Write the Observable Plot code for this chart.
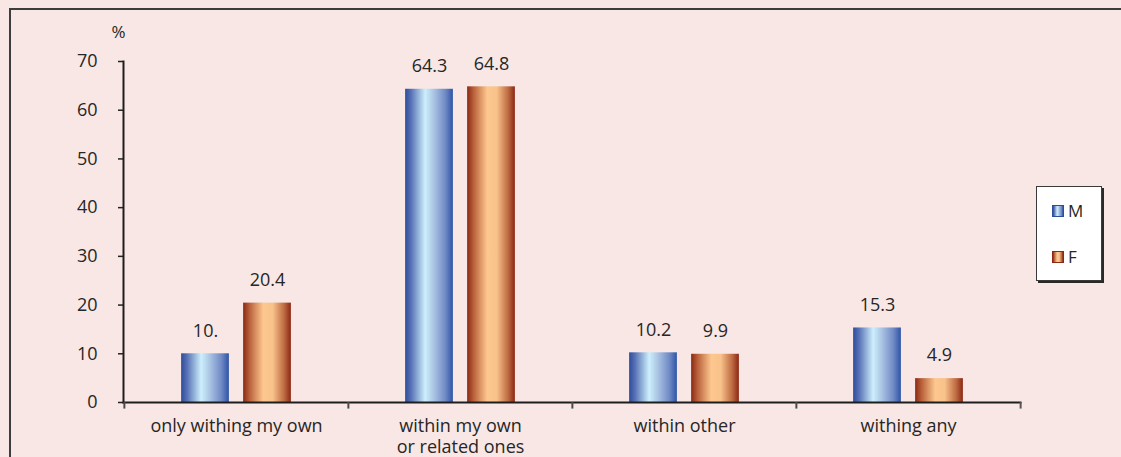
<!DOCTYPE html>
<html>
<head>
<meta charset="utf-8">
<script src="https://cdn.jsdelivr.net/npm/d3@7"></script>
<script src="https://cdn.jsdelivr.net/npm/@observablehq/plot@0.6"></script>
<style>
  html, body { margin: 0; padding: 0; width: 1121px; height: 457px; overflow: hidden; background: #f8e7e5; }
  body { position: relative; font-family: "Open Sans", Lato, sans-serif; color: #262626; }
  #panel { position: absolute; left: 9px; top: 8px; width: 1200px; height: 520px; border-left: 2px solid #3d3d3d; border-top: 2px solid #3d3d3d; box-sizing: border-box; }
  #chart { position: absolute; left: 0; top: 0; }
  #legend { position: absolute; left: 1036px; top: 186px; width: 66px; height: 95px; background: #fff; border: 1px solid #3a3a3a; box-shadow: 2px 2px 0 #2a2a2a; box-sizing: border-box; }
  .item { position: absolute; left: 15px; display: flex; align-items: center; font-size: 17px; line-height: 18px; }
  .sw { width: 12px; height: 12px; margin-right: 4px; box-sizing: border-box; }
</style>
</head>
<body>
<div id="panel"></div>
<div id="chart"></div>
<div id="legend">
  <div class="item" style="top: 15px"><div class="sw" id="swM"></div><span>M</span></div>
  <div class="item" style="top: 61px"><div class="sw" id="swF"></div><span>F</span></div>
</div>
<script>
// Share of respondents (%) by group, for men (M) and women (F)
const categories = ["only withing my own", "within my own\nor related ones", "within other", "withing any"];
const series = ["M", "F"];
const maleValues = [10.0, 64.3, 10.2, 15.3];
const femaleValues = [20.4, 64.8, 9.9, 4.9];
const yTicks = [0, 10, 20, 30, 40, 50, 60, 70];

// Cylinder-like horizontal shading for each series
const gradients = {
  M: [[0, "#2c4c9c"], [0.12, "#5670b4"], [0.42, "#cdeffc"], [0.6, "#aac4e4"], [0.85, "#6f88c4"], [1, "#2d53a6"]],
  F: [[0, "#8c2816"], [0.14, "#bb633c"], [0.42, "#fdc78f"], [0.62, "#f8c28b"], [0.86, "#bd6a42"], [1, "#8a2814"]]
};

const rows = categories.flatMap((c, i) => [
  {category: c, series: "M", value: maleValues[i]},
  {category: c, series: "F", value: femaleValues[i]}
]);

const width = 1121, height = 457;
const marginLeft = 123, marginRight = 101, marginTop = 61, marginBottom = 55;
const band = (width - marginLeft - marginRight) / categories.length;
const barW = 48, gap = 14;
const near = band / 2 - gap / 2 - barW; // inset on the outer side of each bar
const far = band / 2 + gap / 2;         // inset on the inner side of each bar
const shift = gap / 2 + barW / 2;       // label offset from the group centre

const fmt = v => Number.isInteger(v) ? v + "." : String(v);
const ink = "#262626";
const font = "'Open Sans', Lato, sans-serif";

const chart = Plot.plot({
  width, height, marginLeft, marginRight, marginTop, marginBottom,
  style: {background: "transparent", fontFamily: font, fontSize: "18px", color: ink},
  x: {domain: categories, padding: 0},
  y: {domain: [0, 70]},
  marks: [
    Plot.barY(rows.filter(d => d.series === "M"), {x: "category", y: "value", fill: "url(#grad-M)", insetLeft: near, insetRight: far}),
    Plot.barY(rows.filter(d => d.series === "F"), {x: "category", y: "value", fill: "url(#grad-F)", insetLeft: far, insetRight: near}),
    Plot.text(rows.filter(d => d.series === "M"), {x: "category", y: "value", text: d => fmt(d.value), dx: -shift, dy: -23, fill: ink, fontSize: 18}),
    Plot.text(rows.filter(d => d.series === "F"), {x: "category", y: "value", text: d => fmt(d.value), dx: shift, dy: -23, fill: ink, fontSize: 18}),
    Plot.axisY({ticks: yTicks, tickSize: 5, tickPadding: 21, label: null, fontSize: 18, stroke: "#222", strokeWidth: 1.5}),
    Plot.axisX({tickSize: 0, tickPadding: 15, label: null, fontSize: 18, lineHeight: 1.15}),
    Plot.frame({anchor: "left", stroke: "#1e1e1e", strokeWidth: 2}),
    Plot.frame({anchor: "bottom", stroke: "#1e1e1e", strokeWidth: 2}),
    // category separators below the baseline
    Plot.ruleX(categories, {x: d => d, y1: 0, y2: -1.35, dx: -band / 2, stroke: "#4a4a4a", strokeWidth: 2}),
    Plot.ruleX(categories.slice(-1), {x: d => d, y1: 0, y2: -1.35, dx: band / 2, stroke: "#555", strokeWidth: 2}),
    Plot.text(["%"], {frameAnchor: "top-left", text: d => d, dx: -5, dy: -29, textAnchor: "middle", lineAnchor: "middle", fontSize: 17, fill: ink})
  ]
});

const defs = d3.select(chart).insert("defs", ":first-child");
for (const s of series) {
  const g = defs.append("linearGradient").attr("id", `grad-${s}`).attr("x1", 0).attr("x2", 1).attr("y1", 0).attr("y2", 0);
  for (const [o, c] of gradients[s]) g.append("stop").attr("offset", o).attr("stop-color", c);
}
document.getElementById("chart").appendChild(chart);

for (const s of series) {
  const el = document.getElementById(`sw${s}`);
  el.style.background = `linear-gradient(to right, ${gradients[s].map(([o, c]) => `${c} ${o * 100}%`).join(", ")})`;
  el.style.border = `1px solid ${gradients[s][0][1]}`;
}
</script>
</body>
</html>
